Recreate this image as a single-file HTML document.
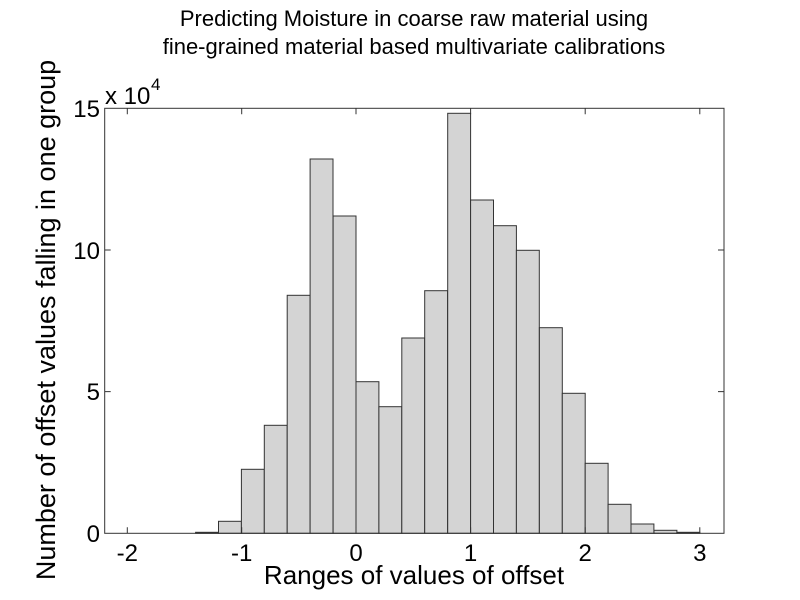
<!DOCTYPE html>
<html><head><style>body{margin:0;background:#fff}svg{display:block}</style></head><body>
<svg width="800" height="600" xmlns="http://www.w3.org/2000/svg" font-family="Liberation Sans, Arial, sans-serif" fill="#000">
<rect width="800" height="600" fill="#fff"/>
<g fill="#d4d4d4" stroke="#333" stroke-width="1">
<rect x="195.6" y="532.3" width="22.9" height="1"/>
<rect x="218.5" y="521.3" width="22.9" height="12"/>
<rect x="241.4" y="469.3" width="22.9" height="64"/>
<rect x="264.3" y="425.3" width="22.9" height="108"/>
<rect x="287.2" y="295.3" width="22.9" height="238"/>
<rect x="310.1" y="159" width="22.9" height="374.3"/>
<rect x="333.1" y="216" width="22.9" height="317.3"/>
<rect x="356" y="381.7" width="22.9" height="151.6"/>
<rect x="378.9" y="406.7" width="22.9" height="126.6"/>
<rect x="401.8" y="338" width="22.9" height="195.3"/>
<rect x="424.7" y="290.7" width="22.9" height="242.6"/>
<rect x="447.7" y="113.3" width="22.9" height="420"/>
<rect x="470.6" y="200" width="22.9" height="333.3"/>
<rect x="493.5" y="225.7" width="22.9" height="307.6"/>
<rect x="516.4" y="250.3" width="22.9" height="283"/>
<rect x="539.4" y="327.7" width="22.9" height="205.6"/>
<rect x="562.3" y="393.3" width="22.9" height="140"/>
<rect x="585.2" y="463.3" width="22.9" height="70"/>
<rect x="608.1" y="504.3" width="22.9" height="29"/>
<rect x="631" y="524" width="22.9" height="9.3"/>
<rect x="654" y="530.3" width="22.9" height="3"/>
<rect x="676.9" y="532.3" width="22.9" height="1"/>
</g>
<rect x="104.7" y="108.3" width="619.3" height="425" fill="none" stroke="#333" stroke-width="1"/>
<g stroke="#333" stroke-width="1">
<path d="M127.3 533.3v-6M241.7 533.3v-6M356 533.3v-6M470.6 533.3v-6M585.2 533.3v-6M699.8 533.3v-6"/>
<path d="M127.3 108.3v6M241.7 108.3v6M356 108.3v6M470.6 108.3v6M585.2 108.3v6M699.8 108.3v6"/>
<path d="M104.7 391.6h6M104.7 250h6M724 391.6h-6M724 250h-6"/>
</g>
<g font-size="24" text-anchor="middle">
<text x="127.3" y="561">-2</text><text x="241.7" y="561">-1</text><text x="356" y="561">0</text>
<text x="470.6" y="561">1</text><text x="585.2" y="561">2</text><text x="699.8" y="561">3</text>
</g>
<g font-size="24" text-anchor="end">
<text x="100" y="542">0</text><text x="100" y="400">5</text><text x="100" y="259">10</text><text x="100" y="117">15</text>
</g>
<text x="105" y="104" font-size="24">x 10</text><text x="151" y="90" font-size="17">4</text>
<g font-size="22" text-anchor="middle">
<text x="414" y="26">Predicting Moisture in coarse raw material using</text>
<text x="414" y="54">fine-grained material based multivariate calibrations</text>
</g>
<g text-anchor="middle">
<text x="414" y="584" font-size="26">Ranges of values of offset</text>
<text transform="translate(55,320) rotate(-90)" font-size="27">Number of offset values falling in one group</text>
</g>
</svg>
</body></html>
